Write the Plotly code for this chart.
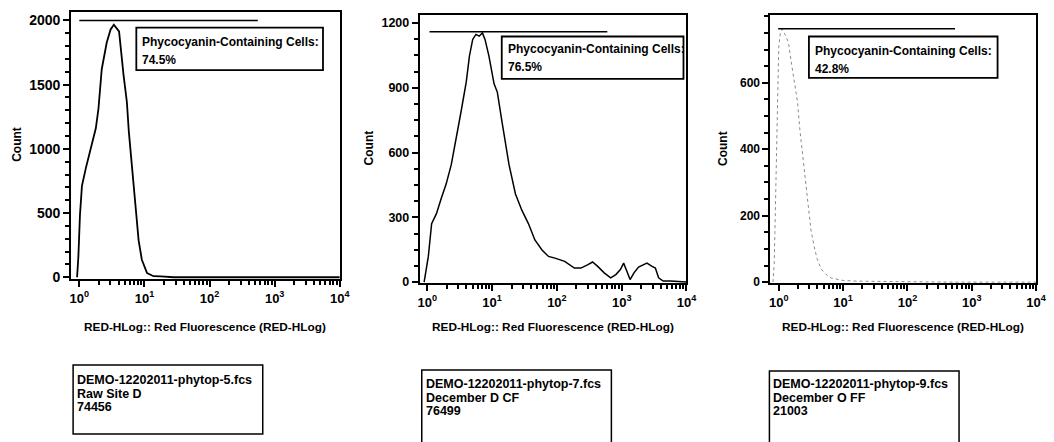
import numpy as np
import plotly.graph_objects as go

W, H = 1054, 442

# RED-HLog histograms: log10 fluorescence vs event count
p1_log10 = [-0.035, -0.015, 0.01, 0.04, 0.10, 0.177, 0.253, 0.294, 0.344, 0.42, 0.48,
            0.53, 0.61, 0.68, 0.73, 0.76, 0.81, 0.86, 0.91, 0.96, 1.04, 1.14, 1.25,
            1.35, 1.45, 4.0]
p1_count = [0, 160, 490, 712, 850, 1000, 1160, 1314, 1620, 1826, 1930,
            1967, 1915, 1570, 1365, 1134, 878, 571, 289, 136, 33, 8, 6,
            4, 0, 0]

p2_log10 = [-0.05, 0.015, 0.066, 0.14, 0.22, 0.29, 0.37, 0.45, 0.52, 0.60, 0.65, 0.70,
            0.75, 0.80, 0.85, 0.89, 0.95, 1.03, 1.08, 1.16, 1.26, 1.36, 1.46, 1.56,
            1.66, 1.77, 1.87, 1.97, 2.12, 2.27, 2.37, 2.48, 2.55, 2.63, 2.73, 2.83,
            2.91, 2.98, 3.03, 3.08, 3.13, 3.19, 3.26, 3.34, 3.39, 3.47, 3.52, 3.57,
            3.64, 3.75, 3.9, 4.0]
p2_count = [0, 119, 271, 317, 393, 454, 545, 667, 789, 926, 1048, 1124,
            1147, 1139, 1154, 1124, 1048, 918, 880, 728, 545, 408, 332, 271,
            195, 149, 119, 111, 96, 65, 65, 81, 93, 73, 43, 20,
            35, 58, 88, 50, 12, 43, 70, 81, 88, 73, 65, 20,
            5, 5, 0, 0]

p3_log10 = [-0.09, -0.07, -0.06, -0.045, -0.03, -0.015, 0.0, 0.025, 0.05, 0.10, 0.15,
            0.20, 0.25, 0.29, 0.33, 0.37, 0.40, 0.435, 0.47, 0.50, 0.56, 0.60, 0.66,
            0.74, 0.82, 0.90, 1.0, 1.2, 1.5, 2.1, 2.8, 4.0]
p3_count = [0, 60, 150, 300, 480, 620, 710, 750, 762, 745, 722,
            655, 600, 545, 455, 384, 321, 267, 200, 157, 98, 68, 39,
            22, 12, 8, 5, 3, 2, 1, 0, 0]

# gate marker (start, end in RED-HLog units, count level)
gate_x = [[1.0, 550], [1.08, 600], [0.98, 550]]
gate_y = [2000, 1160, 763]

gate_label = "Phycocyanin-Containing Cells:"
gate_pct = ["74.5%", "76.5%", "42.8%"]

file_names = ["DEMO-12202011-phytop-5.fcs", "DEMO-12202011-phytop-7.fcs",
              "DEMO-12202011-phytop-9.fcs"]
sample_names = ["Raw Site D", "December D CF", "December O FF"]
event_totals = ["74456", "76499", "21003"]

x_title = "RED-HLog:: Red Fluorescence (RED-HLog)"
y_title = "Count"
decades = [1, 10, 100, 1000, 10000]
decade_text = ["10<sup>0</sup>", "10<sup>1</sup>", "10<sup>2</sup>",
               "10<sup>3</sup>", "10<sup>4</sup>"]
y_ticks = [[0, 500, 1000, 1500, 2000],
           [0, 300, 600, 900, 1200],
           [0, 200, 400, 600]]
y_minor_step = [100, 75, 50]
x_minor_ticks = [m * d for d in [1, 10, 100, 1000] for m in range(2, 10)]

# layout geometry in pixels: frame left, right, top, bottom
frames = [(70, 342, 12, 283), (423, 693, 15, 287), (778, 1047, 15, 287)]
x_ranges = [[-0.126, 4.0], [-0.117, 4.0], [-0.13, 4.0]]
y_ranges = [[-15, 2067], [-4.6, 1238], [-3, 805]]
y_tick_size = [14, 12.5, 12]
count_x = [15, 372, 730]
count_y = [146, 150, 150]
gate_box = [(136, 325, 28, 71), (506, 690, 37, 80), (817, 1008, 37, 79)]
gate_text_y = [(43, 61), (50, 68), (52, 70)]
info_box = [(72, 264, 370, 440), (425, 617, 375, 450), (777, 969, 376, 450)]
info_text_y = [(385, 399, 413), (389, 403, 417), (389, 403, 417)]

FONT = "Liberation Sans, Arial, sans-serif"

fig = go.Figure()
series = [(p1_log10, p1_count), (p2_log10, p2_count), (p3_log10, p3_count)]
line_styles = [dict(color="black", width=1.8),
               dict(color="black", width=1.5),
               dict(color="#8a8a8a", width=1, dash="dot")]

for i, (lx, cnt) in enumerate(series):
    ax = "" if i == 0 else str(i + 1)
    fig.add_trace(go.Scatter(
        x=10 ** np.array(lx), y=cnt, mode="lines", line=line_styles[i],
        xaxis="x" + ax, yaxis="y" + ax, showlegend=False, hoverinfo="skip"))
    fig.add_trace(go.Scatter(
        x=gate_x[i], y=[gate_y[i], gate_y[i]], mode="lines",
        line=dict(color="black", width=1.5),
        xaxis="x" + ax, yaxis="y" + ax, showlegend=False, hoverinfo="skip"))

annotations = []
shapes = []
for i in range(3):
    l, r, t, b = frames[i]
    ax = "" if i == 0 else str(i + 1)
    fig.update_layout(**{
        "xaxis" + ax: dict(
            domain=[l / W, r / W], anchor="y" + ax, type="log", range=x_ranges[i],
            tickmode="array", tickvals=decades, ticktext=decade_text,
            ticks="outside", ticklen=6, tickwidth=2, tickcolor="black",
            showline=True, linewidth=2, linecolor="black", mirror=True,
            showgrid=False, zeroline=False,
            tickfont=dict(family=FONT, size=13, color="black", weight="bold"),
            minor=dict(tickvals=x_minor_ticks, ticks="outside", ticklen=4,
                       tickwidth=1.5, tickcolor="black", showgrid=False)),
        "yaxis" + ax: dict(
            domain=[1 - b / H, 1 - t / H], anchor="x" + ax, range=y_ranges[i],
            tickmode="array", tickvals=y_ticks[i], ticks="outside", ticklen=6,
            tickwidth=2, tickcolor="black", showline=True, linewidth=2,
            linecolor="black", mirror=True, showgrid=False, zeroline=False,
            tickfont=dict(family=FONT, size=y_tick_size[i], color="black",
                          weight="bold"),
            minor=dict(dtick=y_minor_step[i], tick0=0, ticks="outside",
                       ticklen=4, tickwidth=1.5, tickcolor="black",
                       showgrid=False)),
    })

    # axis titles
    annotations.append(dict(
        text=x_title, xref="paper", yref="paper", x=(l + r) / 2 / W,
        y=1 - 331 / H, xanchor="center", yanchor="middle", showarrow=False,
        font=dict(family=FONT, size=11.8, color="black", weight="bold")))
    annotations.append(dict(
        text=y_title, xref="paper", yref="paper", x=count_x[i] / W,
        y=1 - count_y[i] / H, xanchor="center", yanchor="middle", showarrow=False,
        textangle=-90, font=dict(family=FONT, size=12, color="black", weight="bold")))

    # gate statistics box
    gl, gr, gt, gb = gate_box[i]
    shapes.append(dict(type="rect", xref="paper", yref="paper",
                       x0=gl / W, x1=gr / W, y0=1 - gb / H, y1=1 - gt / H,
                       line=dict(color="black", width=1.8), fillcolor="white",
                       layer="above"))
    for txt, ty in zip([gate_label, gate_pct[i]], gate_text_y[i]):
        annotations.append(dict(
            text=txt, xref="paper", yref="paper", x=(gl + 4) / W, y=1 - ty / H,
            xanchor="left", yanchor="middle", showarrow=False,
            font=dict(family=FONT, size=12, color="black", weight="bold")))

    # sample information box
    il, ir, it, ib = info_box[i]
    shapes.append(dict(type="rect", xref="paper", yref="paper",
                       x0=il / W, x1=ir / W, y0=1 - ib / H, y1=1 - it / H,
                       line=dict(color="black", width=1.5)))
    for txt, ty in zip([file_names[i], sample_names[i], event_totals[i]],
                       info_text_y[i]):
        annotations.append(dict(
            text=txt, xref="paper", yref="paper", x=(il + 2) / W, y=1 - ty / H,
            xanchor="left", yanchor="middle", showarrow=False,
            font=dict(family=FONT, size=12.5, color="black", weight="bold")))

fig.update_layout(
    width=W, height=H, margin=dict(l=0, r=0, t=0, b=0),
    paper_bgcolor="white", plot_bgcolor="white",
    annotations=annotations, shapes=shapes, showlegend=False)

fig.write_html("out.html", config={"displayModeBar": False})
